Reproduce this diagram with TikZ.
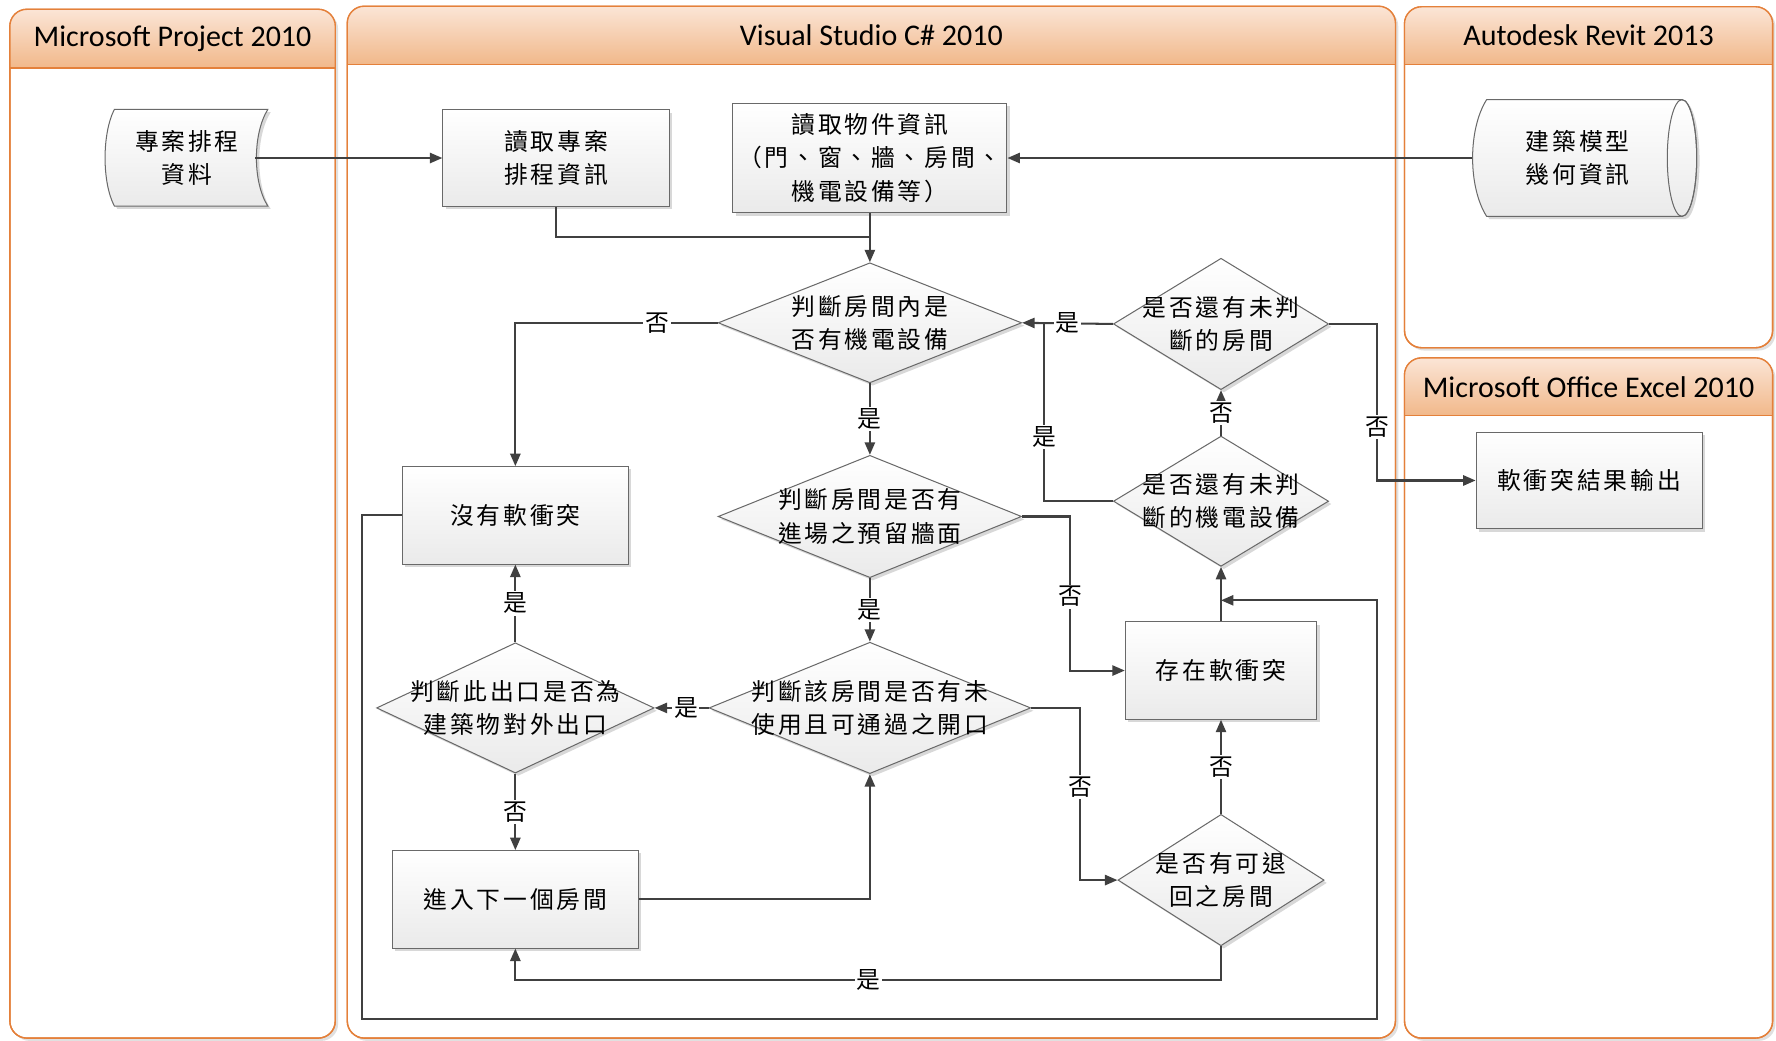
\documentclass[tikz,border=0pt]{standalone}
\usepackage{fontspec}
\setmainfont{Carlito}
\newfontfamily\cjk[LetterSpace=12]{Noto Sans CJK TC}
\usetikzlibrary{shapes.geometric,arrows.meta,shadows}
\definecolor{lanec}{RGB}{228,128,58}
\definecolor{hdtop}{RGB}{251,229,214}
\definecolor{hdbot}{RGB}{241,184,138}
\definecolor{nodeb}{RGB}{105,105,105}
\definecolor{nodebot}{RGB}{234,234,234}
\definecolor{conc}{RGB}{64,64,64}
\newcommand\cjktext{\cjk\fontsize{21}{29.5}\selectfont}
\newcommand\hdtext{\fontsize{26.5}{30}\selectfont}
\tikzset{
  shad/.style={drop shadow={shadow xshift=2.5pt,shadow yshift=-2.5pt,fill=black!30,opacity=0.5}},
  box/.style={rectangle,draw=nodeb,line width=0.9pt,top color=white,bottom color=nodebot,
    inner sep=0pt,align=center,font=\cjktext,shad},
  dia/.style={diamond,draw=nodeb,line width=0.9pt,top color=white,bottom color=nodebot,
    inner xsep=-50pt,inner ysep=-15pt,shape aspect=3,align=center,font=\cjktext,shad},
  conn/.style={draw=conc,line width=1.8pt},
  arr/.style={conn,-{Triangle[length=11pt,width=9pt]}},
  lab/.style={fill=white,inner sep=1.5pt,font=\cjktext,text=black},
  hdr/.style={font=\hdtext,text=black,inner sep=0pt}
}
% #1 x1, #2 y1, #3 x2, #4 y2, #5 header bottom, #6 name, #7 title
\newcommand\swimlane[7]{%
  \fill[black!12,rounded corners=15pt] (#1+2.5,#2+2.5) rectangle (#3+2.5,#4+2.5);
  \filldraw[fill=white,draw=lanec,line width=1.2pt,rounded corners=15pt] (#1,#2) rectangle (#3,#4);
  \begin{scope}
    \clip[rounded corners=15pt] (#1,#2) rectangle (#3,#4);
    \shade[top color=hdtop,bottom color=hdbot] (#1,#2) rectangle (#3,#5);
  \end{scope}
  \draw[lanec,line width=1.2pt,rounded corners=15pt] (#1,#2) rectangle (#3,#4);
  \draw[lanec,line width=1.2pt] (#1,#5) -- (#3,#5);
  \node[hdr] (#6) at ({(#1+#3)/2},{(#2+#5)/2}) {#7};
}
\begin{document}
\begin{tikzpicture}[x=1pt,y=-1pt]
\useasboundingbox (0,0) rectangle (1568,919);

% swimlanes
\swimlane{8.7}{8.2}{296}{916.5}{60}{h1}{Microsoft Project 2010}
\swimlane{306.6}{5.5}{1232}{916.5}{57}{h2}{Visual Studio C\# 2010}
\swimlane{1240}{6}{1565}{307}{57}{h3}{Autodesk Revit 2013}
\swimlane{1240}{316}{1565}{916.5}{367}{h4}{Microsoft Office Excel 2010}

% data shape (stored data)
\fill[black!30,opacity=0.5,shift={(2.5,2.5)}] (101,96.5) -- (236.5,96.5) .. controls (223,118) and (223,161) .. (236.5,182) -- (101,182) .. controls (90,161) and (90,118) .. (101,96.5) -- cycle;
\path[draw=nodeb,line width=0.9pt,top color=white,bottom color=nodebot] (101,96.5) -- (236.5,96.5) .. controls (223,118) and (223,161) .. (236.5,182) -- (101,182) .. controls (90,161) and (90,118) .. (101,96.5) -- cycle;
\node[inner sep=0pt,minimum width=142,minimum height=85.5,align=center,font=\cjktext] (data) at (165,139.5) {專案排程\\資料};

% cylinder (direct access storage)
\fill[black!30,opacity=0.5,shift={(2.5,2.5)}] (1312.5,88) -- (1485,88) arc[start angle=-90,end angle=90,x radius=13,y radius=51.5] -- (1312.5,191) .. controls (1296,165) and (1296,114) .. (1312.5,88) -- cycle;
\path[draw=nodeb,line width=0.9pt,top color=white,bottom color=nodebot] (1312.5,88) -- (1485,88) arc[start angle=-90,end angle=90,x radius=13,y radius=51.5] -- (1312.5,191) .. controls (1296,165) and (1296,114) .. (1312.5,88) -- cycle;
\draw[nodeb,line width=0.9pt] (1485,139.5) ellipse [x radius=13,y radius=51.5];
\node[inner sep=0pt,minimum width=186,minimum height=103,align=center,font=\cjktext] (cyl) at (1393,139.5) {建築模型\\幾何資訊};

% boxes
\node[box,minimum width=200,minimum height=85] (b1) at (491,139.5) {讀取專案\\排程資訊};
\node[box,minimum width=242,minimum height=97] (b2) at (768,139.5) {讀取物件資訊\\（門、窗、牆、房間、\\機電設備等）};
\node[box,minimum width=200,minimum height=86] (nb) at (455,455) {沒有軟衝突};
\node[box,minimum width=169,minimum height=86] (cb) at (1078,592) {存在軟衝突};
\node[box,minimum width=217,minimum height=86] (nx) at (455,794) {進入下一個房間};
\node[box,minimum width=199.5,minimum height=85.5] (out) at (1403,424.2) {軟衝突結果輸出};

% decisions
\node[dia,minimum width=268,minimum height=106] (d1) at (768,285) {判斷房間內是\\否有機電設備};
\node[dia,minimum width=190,minimum height=116] (d7) at (1078,286) {是否還有未判\\斷的房間};
\node[dia,minimum width=190,minimum height=115] (d6) at (1078,442.5) {是否還有未判\\斷的機電設備};
\node[dia,minimum width=268,minimum height=108] (d2) at (768,456) {判斷房間是否有\\進場之預留牆面};
\node[dia,minimum width=284,minimum height=116] (d3) at (768,625) {判斷該房間是否有未\\使用且可通過之開口};
\node[dia,minimum width=245,minimum height=115] (d4) at (455,625) {判斷此出口是否為\\建築物對外出口};
\node[dia,minimum width=182,minimum height=116] (d5) at (1078,777) {是否有可退\\回之房間};

% helper coordinates
\coordinate (j1) at (768,209);
\coordinate (j2) at (922,285);
\coordinate (lp1) at (320,900);
\coordinate (lp2) at (1216,530);
\coordinate (lp3) at (455,865);

% connectors
\draw[arr] ([xshift=-11pt]data.east) -- (b1.west);
\draw[conn] (b1.south) |- (j1);
\draw[arr] (b2.south) -- (d1.north);
\draw[arr] (cyl.west) -- (b2.east);
\draw[arr] (d1.west) -| node[lab,pos=0.15] {否} (nb.north);
\draw[arr] (d1.south) -- node[lab] {是} (d2.north);
\draw[arr] (d2.east) -| node[lab,pos=0.76] {否} ([xshift=-48pt]cb.west) -- (cb.west);
\draw[arr] (d2.south) -- node[lab] {是} (d3.north);
\draw[arr] (d3.west) -- node[lab,pos=0.42] {是} (d4.east);
\draw[arr] (d4.north) -- node[lab] {是} (nb.south);
\draw[arr] (d4.south) -- node[lab] {否} (nx.north);
\draw[arr] (nx.east) -| (d3.south);
\draw[arr] (d3.east) -| node[lab,pos=0.73] {否} ([xshift=-33pt]d5.west) -- (d5.west);
\draw[arr] (d5.north) -- node[lab] {否} (cb.south);
\draw[arr] (d5.south) |- node[lab,pos=0.75] {是} (lp3) -- (nx.south);
\draw[arr] (nb.west) -| (lp1) -| (lp2) -- (cb.north |- lp2);
\draw[arr] (cb.north) -- (d6.south);
\draw[conn] (d6.west) -| node[lab,pos=0.68] {是} (j2);
\draw[arr] (d7.west) -- node[lab] {是} (d1.east);
\draw[arr] (d6.north) -- node[lab] {否} (d7.south);
\draw[arr] (d7.east) -| node[lab,pos=0.83] {否} ([xshift=-87pt]out.west) -- (out.west);
\end{tikzpicture}
\end{document}
